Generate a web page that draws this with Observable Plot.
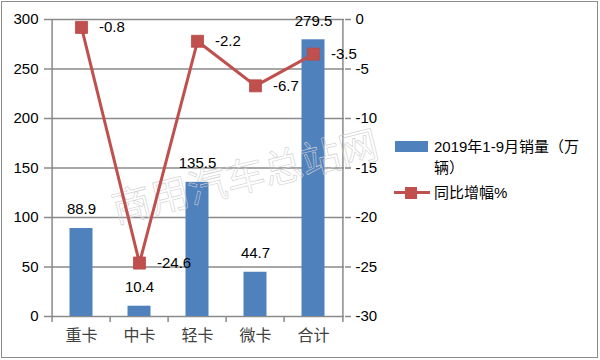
<!DOCTYPE html>
<html>
<head>
<meta charset="utf-8">
<script src="https://cdn.jsdelivr.net/npm/d3@7"></script>
<script src="https://cdn.jsdelivr.net/npm/@observablehq/plot@0.6"></script>
<style>
  body { margin: 0; background: #fff; }
  #wrap { position: relative; width: 600px; height: 360px; overflow: hidden;
          font-family: "Liberation Sans", "Noto Sans CJK SC", sans-serif; background: #fff; }
  #wrap svg { position: absolute; left: 0; top: 0; }
  #border { position: absolute; left: 1px; top: 1px; width: 595px; height: 355px;
            border: 1.5px solid #8c8c8c; pointer-events: none; }
  .leg { position: absolute; font-size: 15px; line-height: 21px; color: #000; }
  .leg .txt { position: absolute; left: 40px; top: 0; width: 160px; }
</style>
</head>
<body>
<div id="wrap"><div id="border"></div></div>
<script>
// ---- data ----
const categories = ["重卡", "中卡", "轻卡", "微卡", "合计"];
const sales = [88.9, 10.4, 135.5, 44.7, 279.5];          // 2019年1-9月销量（万辆）
const growth = [-0.8, -24.6, -2.2, -6.7, -3.5];          // 同比增幅%
const leftTicks = [0, 50, 100, 150, 200, 250, 300];
const rightTicks = [-30, -25, -20, -15, -10, -5, 0];
const seriesNames = ["2019年1-9月销量（万辆）", "同比增幅%"];
const watermark = "商用汽车总站网";

// ---- map right axis onto left scale ----
const L0 = 0, L1 = 300, R0 = -30, R1 = 0;
const toLeft = v => L0 + (v - R0) / (R1 - R0) * (L1 - L0);
const fromLeft = v => R0 + (v - L0) / (L1 - L0) * (R1 - R0);
const rows = categories.map((c, i) => ({cat: c, sales: sales[i], growth: growth[i], g: toLeft(growth[i])}));

const W = 600, H = 360, mL = 50, mR = 256, mT = 19, mB = 44;
const bw = (W - mL - mR) / categories.length;
const plotH = H - mT - mB;
const gray = "#8a8a8a";
const blue = "#4f81bd", red = "#c0504d";
const font = "'Liberation Sans', 'Noto Sans CJK SC', sans-serif";

const chart = Plot.plot({
  width: W, height: H,
  marginLeft: mL, marginRight: mR, marginTop: mT, marginBottom: mB,
  style: {fontFamily: font, fontSize: "15px", color: "#000", background: "transparent"},
  x: {type: "band", domain: categories, padding: 0, axis: null, label: null},
  y: {domain: [L0, L1], axis: null, label: null},
  marks: [
    Plot.ruleY(leftTicks, {stroke: gray, strokeWidth: 1.3}),
    // axis lines (outer boundaries)
    Plot.ruleX([categories[0]], {dx: -bw / 2, insetBottom: -6, stroke: gray, strokeWidth: 1.5}),
    Plot.ruleX([categories[categories.length - 1]], {dx: bw / 2, insetBottom: -6, stroke: gray, strokeWidth: 1.5}),
    // category boundary ticks
    Plot.ruleX(categories.slice(1), {dx: -bw / 2, insetTop: plotH, insetBottom: -6, stroke: gray, strokeWidth: 1.5}),
    Plot.barY(rows, {x: "cat", y: "sales", fill: blue, insetLeft: 17.5, insetRight: 17.5}),
    Plot.text([watermark], {frameAnchor: "middle", dx: 48, dy: 10, rotate: -14, fontSize: 39,
      fill: "none", stroke: "#cfcfcf", strokeWidth: 0.6, fontFamily: "'Noto Sans CJK SC', sans-serif"}),
    Plot.axisY({ticks: leftTicks, tickSize: 6, tickPadding: 6, stroke: gray, strokeWidth: 1.5, fill: "#000", fontSize: 15, label: null}),
    Plot.axisY({anchor: "right", ticks: rightTicks.map(toLeft), tickFormat: d => String(Math.round(fromLeft(d))),
      tickSize: 6, tickPadding: 5, stroke: gray, strokeWidth: 1.5, fill: "#000", fontSize: 15, label: null}),
    Plot.axisX({tickSize: 0, tickPadding: 13, fontSize: 16, fill: "#404040", label: null,
      fontFamily: "'Noto Sans CJK SC', sans-serif"}),
    Plot.lineY(rows, {x: "cat", y: "g", stroke: red, strokeWidth: 3}),
    Plot.dot(rows, {x: "cat", y: "g", symbol: "square", r: 6.8, fill: red, stroke: "#b94a47", strokeWidth: 0.8}),
    Plot.text(rows, {x: "cat", y: "sales", text: d => d.sales.toFixed(1), dy: -19, fontSize: 15, fill: "#000"}),
    Plot.text(rows, {x: "cat", y: "g", text: d => String(d.growth), textAnchor: "start", dx: 17.5, fontSize: 15, fill: "#000"})
  ]
});
const wrap = document.getElementById("wrap");
wrap.insertBefore(chart, wrap.firstChild);

// ---- legend ----
const l1 = document.createElement("div");
l1.className = "leg";
l1.style.left = "394px"; l1.style.top = "136px";
l1.innerHTML = `<div style="position:absolute;left:1px;top:5px;width:33px;height:11px;background:${blue}"></div>`;
const t1 = document.createElement("div"); t1.className = "txt"; t1.textContent = seriesNames[0];
l1.appendChild(t1);
wrap.appendChild(l1);

const l2 = document.createElement("div");
l2.className = "leg";
l2.style.left = "394px"; l2.style.top = "182px";
l2.innerHTML = `<div style="position:absolute;left:0;top:9px;width:36px;height:3px;background:${red}"></div>` +
  `<div style="position:absolute;left:11px;top:4.5px;width:12px;height:12px;background:${red}"></div>`;
const t2 = document.createElement("div"); t2.className = "txt"; t2.textContent = seriesNames[1];
l2.appendChild(t2);
wrap.appendChild(l2);
</script>
</body>
</html>
